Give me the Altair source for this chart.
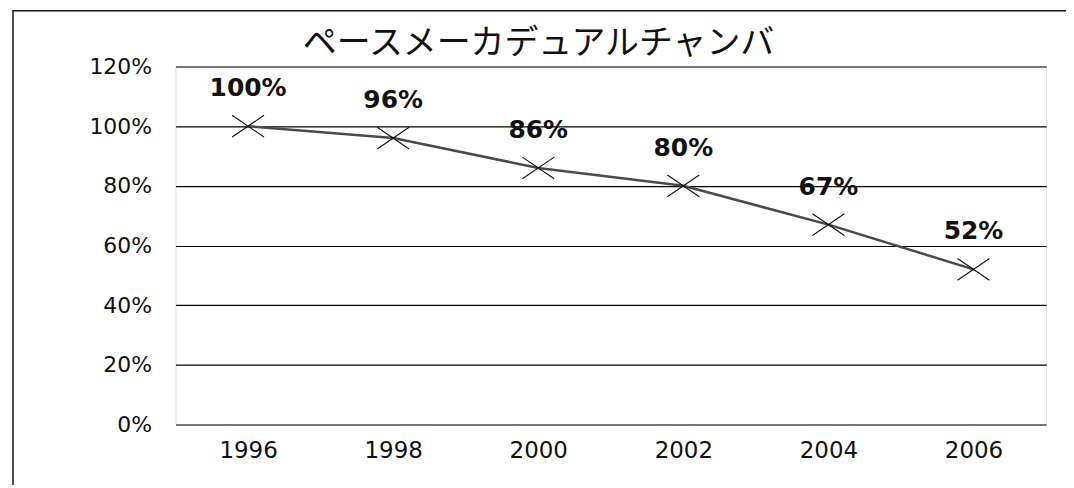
import altair as alt
import pandas as pd

years = ["1996", "1998", "2000", "2002", "2004", "2006"]
values = [1.00, 0.96, 0.86, 0.80, 0.67, 0.52]
labels = ["100%", "96%", "86%", "80%", "67%", "52%"]
title_text = "ペースメーカデュアルチャンバ"

df = pd.DataFrame({"year": years, "value": values, "label": labels})

x = alt.X("year:O", sort=years, title=None,
          scale=alt.Scale(type="point", padding=0.5),
          axis=alt.Axis(labelAngle=0, labelFontSize=23, labelFont="DejaVu Sans",
                        labelColor="#111", labelPadding=15, ticks=False, domain=False, grid=False))
y = alt.Y("value:Q", title=None,
          scale=alt.Scale(domain=[0, 1.2], nice=False, zero=True),
          axis=alt.Axis(values=[0, 0.2, 0.4, 0.6, 0.8, 1.0, 1.2], format=".0%",
                        labelFontSize=22, labelFont="DejaVu Sans", labelColor="#111",
                        labelPadding=24, ticks=False, domain=False,
                        grid=True, gridColor="#000", gridWidth=1.2, gridOpacity=1))

base = alt.Chart(df)

line = base.mark_line(color="#4a4a4a", strokeWidth=2.5).encode(x=x, y=y)

pts = base.mark_point(shape="M-1,-0.68L1,0.68M-1,0.68L1,-0.68", size=1024, filled=False,
                      color="#111", strokeWidth=1.1, opacity=1).encode(x=x, y=y)

txt = base.mark_text(dy=-38, fontSize=25, fontWeight="bold", font="DejaVu Sans",
                     color="#111").encode(x=x, y=y, text="label:N")

single = alt.Chart(pd.DataFrame({"t": [title_text]}))

frame = single.mark_rect(
    fillOpacity=0, stroke="#111", strokeWidth=1.5
).encode(x=alt.value(-163), x2=alt.value(920), y=alt.value(-56), y2=alt.value(450))

title = single.mark_text(font="Noto Sans CJK JP", fontSize=34, color="#111",
                         align="center", baseline="middle").encode(
    x=alt.value(364), y=alt.value(-23), text="t:N")

chart = alt.layer(frame, line, pts, txt, title).properties(
    width=873, height=359,
    autosize=alt.AutoSizeParams(type="none"),
    padding={"left": 168, "top": 58, "right": 20, "bottom": 60},
).configure_view(stroke="#111", strokeWidth=1.2).configure(background="white")

chart.save("out.html", embed_options={"renderer": "svg", "actions": False})
